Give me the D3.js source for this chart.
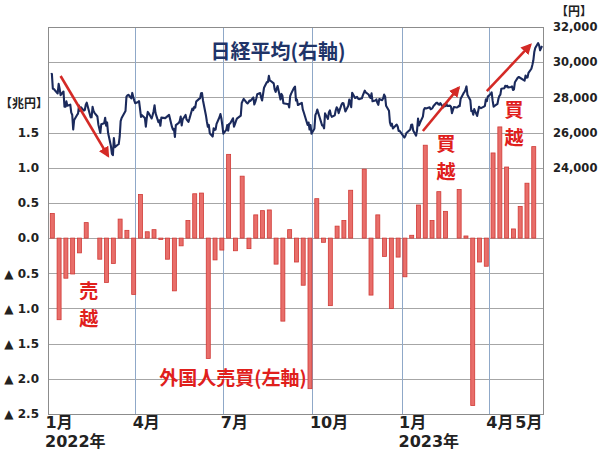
<!DOCTYPE html>
<html><head><meta charset="utf-8">
<script src="https://cdn.jsdelivr.net/npm/d3@7"></script>
<style>
html,body{margin:0;padding:0;background:#fff;}
svg{display:block;}
</style></head>
<body>
<svg id="chart" width="600" height="453"></svg>
<script>
// ---- DATA ----
// Weekly foreign investor net buying/selling (trillion yen), weeks ending on Fridays from 2022-01-07
const flowValues = [
  0.35,-1.16,-0.57,-0.51,-0.21,0.22,0.00,-0.30,-0.63,-0.36,0.27,0.11,-0.80,
  0.62,0.09,0.12,-0.02,-0.30,-0.75,-0.11,0.25,0.63,0.64,-1.71,-0.31,-0.17,
  1.19,-0.18,0.88,-0.15,0.33,0.39,0.40,-0.37,-1.18,0.12,-0.34,-0.67,-2.14,
  0.56,-0.06,-0.96,0.17,0.25,0.68,0.00,0.98,-0.81,0.33,-0.26,-1.00,-0.27,
  -0.55,0.04,0.47,1.32,0.25,0.66,0.38,0.00,0.69,0.03,-2.38,-0.34,-0.40,
  1.21,1.58,1.01,0.13,0.45,0.78,1.30
];
const firstWeek = "2022-01-07";

// Nikkei 225 closing prices (yen)
const nikkei = [
["2022-01-04",29301],["2022-01-05",29332],["2022-01-06",28487],["2022-01-07",28478],["2022-01-11",28222],["2022-01-12",28765],["2022-01-13",28489],["2022-01-14",28124],["2022-01-17",28333],["2022-01-18",27467],["2022-01-19",27467],["2022-01-20",27772],["2022-01-21",27522],["2022-01-24",27588],["2022-01-25",27131],["2022-01-26",27011],["2022-01-27",26170],["2022-01-28",26717],["2022-01-31",27002],
["2022-02-01",27078],["2022-02-02",27533],["2022-02-03",27241],["2022-02-04",27440],["2022-02-07",27249],["2022-02-08",27284],["2022-02-09",27580],["2022-02-10",27696],["2022-02-14",26865],["2022-02-15",26866],["2022-02-16",27460],["2022-02-17",27232],["2022-02-18",27122],["2022-02-21",26911],["2022-02-22",26450],["2022-02-24",25971],["2022-02-25",26476],["2022-02-28",26526],
["2022-03-01",26844],["2022-03-02",26393],["2022-03-03",26577],["2022-03-04",25985],["2022-03-07",25221],["2022-03-08",24791],["2022-03-09",24717],["2022-03-10",25690],["2022-03-11",25163],["2022-03-14",25307],["2022-03-15",25346],["2022-03-16",25762],["2022-03-17",26652],["2022-03-18",26827],["2022-03-22",27224],["2022-03-23",28040],["2022-03-24",28110],["2022-03-25",28149],["2022-03-28",27943],["2022-03-29",28252],["2022-03-30",28027],["2022-03-31",27821],
["2022-04-01",27665],["2022-04-04",27736],["2022-04-05",27787],["2022-04-06",27350],["2022-04-07",26888],["2022-04-08",26985],["2022-04-11",26821],["2022-04-12",26334],["2022-04-13",26843],["2022-04-14",27172],["2022-04-15",27093],["2022-04-18",26799],["2022-04-19",26985],["2022-04-20",27217],["2022-04-21",27553],["2022-04-22",27105],["2022-04-25",26590],["2022-04-26",26700],["2022-04-27",26386],["2022-04-28",26847],
["2022-05-02",26818],["2022-05-06",27003],["2022-05-09",26319],["2022-05-10",26167],["2022-05-11",26213],["2022-05-12",25748],["2022-05-13",26427],["2022-05-16",26547],["2022-05-17",26659],["2022-05-18",26911],["2022-05-19",26402],["2022-05-20",26739],["2022-05-23",27001],["2022-05-24",26748],["2022-05-25",26677],["2022-05-26",26604],["2022-05-27",26781],["2022-05-30",27369],["2022-05-31",27279],
["2022-06-01",27457],["2022-06-02",27413],["2022-06-03",27761],["2022-06-06",27915],["2022-06-07",27943],["2022-06-08",28234],["2022-06-09",28246],["2022-06-10",27824],["2022-06-13",26987],["2022-06-14",26629],["2022-06-15",26326],["2022-06-16",26431],["2022-06-17",25963],["2022-06-20",25771],["2022-06-21",26246],["2022-06-22",26149],["2022-06-23",26171],["2022-06-24",26491],["2022-06-27",26871],["2022-06-28",27049],["2022-06-29",26804],["2022-06-30",26393],
["2022-07-01",25935],["2022-07-04",26153],["2022-07-05",26423],["2022-07-06",26107],["2022-07-07",26490],["2022-07-08",26517],["2022-07-11",26812],["2022-07-12",26336],["2022-07-13",26478],["2022-07-14",26643],["2022-07-15",26788],["2022-07-19",26962],["2022-07-20",27680],["2022-07-21",27803],["2022-07-22",27914],["2022-07-25",27699],["2022-07-26",27655],["2022-07-27",27715],["2022-07-28",27815],["2022-07-29",27801],
["2022-08-01",27993],["2022-08-02",27594],["2022-08-03",27742],["2022-08-04",27932],["2022-08-05",28175],["2022-08-08",28249],["2022-08-09",27999],["2022-08-10",27819],["2022-08-12",28546],["2022-08-15",28871],["2022-08-16",28868],["2022-08-17",29222],["2022-08-18",28942],["2022-08-19",28930],["2022-08-22",28794],["2022-08-23",28452],["2022-08-24",28313],["2022-08-25",28479],["2022-08-26",28641],["2022-08-29",27878],["2022-08-30",28195],["2022-08-31",28091],
["2022-09-01",27661],["2022-09-02",27650],["2022-09-05",27619],["2022-09-06",27626],["2022-09-07",27430],["2022-09-08",28065],["2022-09-09",28214],["2022-09-12",28542],["2022-09-13",28614],["2022-09-14",27818],["2022-09-15",27875],["2022-09-16",27567],["2022-09-20",27688],["2022-09-21",27313],["2022-09-22",27153],["2022-09-26",26431],["2022-09-27",26571],["2022-09-28",26173],["2022-09-29",26422],["2022-09-30",25937],
["2022-10-03",26215],["2022-10-04",26992],["2022-10-05",27120],["2022-10-06",27311],["2022-10-07",27116],["2022-10-11",26401],["2022-10-12",26397],["2022-10-13",26237],["2022-10-14",27090],["2022-10-17",26775],["2022-10-18",27156],["2022-10-19",27257],["2022-10-20",27006],["2022-10-21",26890],["2022-10-24",26974],["2022-10-25",27250],["2022-10-26",27431],["2022-10-27",27345],["2022-10-28",27105],["2022-10-31",27587],
["2022-11-01",27678],["2022-11-02",27663],["2022-11-04",27199],["2022-11-07",27527],["2022-11-08",27872],["2022-11-09",27716],["2022-11-10",27446],["2022-11-11",28263],["2022-11-14",27963],["2022-11-15",27990],["2022-11-16",28028],["2022-11-17",27930],["2022-11-18",27899],["2022-11-21",27944],["2022-11-22",28115],["2022-11-24",28383],["2022-11-25",28283],["2022-11-28",28162],["2022-11-29",28027],["2022-11-30",27968],
["2022-12-01",28226],["2022-12-02",27777],["2022-12-05",27820],["2022-12-06",27885],["2022-12-07",27686],["2022-12-08",27574],["2022-12-09",27901],["2022-12-12",27842],["2022-12-13",27954],["2022-12-14",28156],["2022-12-15",28051],["2022-12-16",27527],["2022-12-19",27237],["2022-12-20",26568],["2022-12-21",26387],["2022-12-22",26507],["2022-12-23",26235],["2022-12-26",26405],["2022-12-27",26447],["2022-12-28",26340],["2022-12-29",26093],["2022-12-30",26095],
["2023-01-04",25717],["2023-01-05",25820],["2023-01-06",25974],["2023-01-10",26175],["2023-01-11",26446],["2023-01-12",26449],["2023-01-13",26120],["2023-01-16",25822],["2023-01-17",26138],["2023-01-18",26791],["2023-01-19",26405],["2023-01-20",26553],["2023-01-23",26907],["2023-01-24",27299],["2023-01-25",27395],["2023-01-26",27363],["2023-01-27",27382],["2023-01-30",27433],["2023-01-31",27327],
["2023-02-01",27346],["2023-02-02",27402],["2023-02-03",27509],["2023-02-06",27694],["2023-02-07",27685],["2023-02-08",27606],["2023-02-09",27584],["2023-02-10",27670],["2023-02-13",27427],["2023-02-14",27602],["2023-02-15",27501],["2023-02-16",27696],["2023-02-17",27513],["2023-02-20",27531],["2023-02-21",27473],["2023-02-22",27104],["2023-02-24",27453],["2023-02-27",27423],["2023-02-28",27445],
["2023-03-01",27516],["2023-03-02",27498],["2023-03-03",27927],["2023-03-06",28237],["2023-03-07",28309],["2023-03-08",28444],["2023-03-09",28623],["2023-03-10",28143],["2023-03-13",27832],["2023-03-14",27222],["2023-03-15",27229],["2023-03-16",27010],["2023-03-17",27334],["2023-03-20",26945],["2023-03-22",27466],["2023-03-23",27419],["2023-03-24",27385],["2023-03-27",27476],["2023-03-28",27518],["2023-03-29",27883],["2023-03-30",27782],["2023-03-31",28041],
["2023-04-03",28188],["2023-04-04",28287],["2023-04-05",27813],["2023-04-06",27472],["2023-04-07",27518],["2023-04-10",27633],["2023-04-11",27923],["2023-04-12",28082],["2023-04-13",28157],["2023-04-14",28493],["2023-04-17",28514],["2023-04-18",28658],["2023-04-19",28606],["2023-04-20",28657],["2023-04-21",28564],["2023-04-24",28593],["2023-04-25",28620],["2023-04-26",28416],["2023-04-27",28457],["2023-04-28",28856],
["2023-05-01",29123],["2023-05-02",29157],["2023-05-08",28949],["2023-05-09",29242],["2023-05-10",29122],["2023-05-11",29126],["2023-05-12",29388],["2023-05-15",29626],["2023-05-16",29842],["2023-05-17",30093],["2023-05-18",30573],["2023-05-19",30808],["2023-05-22",31086],["2023-05-23",30957],["2023-05-24",30682],["2023-05-25",30801],["2023-05-26",30916]
];

// Axis ticks / labels
const leftTicks = [1.5,1.0,0.5,0.0,-0.5,-1.0,-1.5,-2.0,-2.5];
const gridValues = [3.0,2.5,2.0,1.5,1.0,0.5,0.0,-0.5,-1.0,-1.5,-2.0,-2.5];
const rightTicks = [24000,26000,28000,30000,32000];
const monthTicks = ["2022-01-01","2022-04-01","2022-07-01","2022-10-01","2023-01-01","2023-04-01","2023-05-01"];
const monthLabels = ["1月","4月","7月","10月","1月","4月","5月"];
const quarterLines = ["2022-04-01","2022-07-01","2022-10-01","2023-01-01","2023-04-01"];
const yearLabels = [["2022-01-01","2022年"],["2023-01-01","2023年"]];

// Annotations (data coordinates)
const arrows = [
  {from:["2022-01-14",29216], to:["2022-03-04",24670]},
  {from:["2023-01-23",26090], to:["2023-03-01",28550]},
  {from:["2023-03-30",28360], to:["2023-05-14",30980]}
];
const vlabels = [
  {date:"2022-02-12", v:-0.85, chars:["売","越"]},
  {date:"2023-02-16", v:1.24, chars:["買","越"]},
  {date:"2023-04-27", v:1.72, chars:["買","越"]}
];

// ---- CHART ----
const parse = d3.timeParse("%Y-%m-%d");
const svg = d3.select("#chart");
const L = 48, R = 543, T = 27, B = 414;

const x = d3.scaleTime().domain([parse("2022-01-01"), parse("2023-05-27")]).range([L, R]);
const yL = d3.scaleLinear().domain([-2.5, 3.0]).range([B, T]);
const yR = d3.scaleLinear().domain([10000, 32000]).range([B, T]);

const fontNum = "'DejaVu Sans','Noto Sans CJK JP',sans-serif";
const fontJP = "'Noto Sans CJK JP','Noto Sans',sans-serif";

// horizontal grid
svg.append("g").selectAll("line").data(gridValues).join("line")
  .attr("x1", L).attr("x2", R)
  .attr("y1", d => Math.round(yL(d)) + 0.5).attr("y2", d => Math.round(yL(d)) + 0.5)
  .attr("stroke", "#a6a6a6").attr("stroke-width", 1);

// vertical quarter lines
svg.append("g").selectAll("line").data(quarterLines).join("line")
  .attr("x1", d => Math.round(x(parse(d))) + 0.5).attr("x2", d => Math.round(x(parse(d))) + 0.5)
  .attr("y1", T).attr("y2", B)
  .attr("stroke", "#8fa8c8").attr("stroke-width", 1);

// frame
svg.append("rect").attr("x", L + 0.5).attr("y", T + 0.5).attr("width", R - L).attr("height", B - T)
  .attr("fill", "none").attr("stroke", "#8c8c8c").attr("stroke-width", 1);

// bars
const weeks = flowValues.map((v, i) => ({date: d3.timeDay.offset(parse(firstWeek), 7 * i), v}));
const barW = 4;
svg.append("g").selectAll("rect").data(weeks).join("rect")
  .attr("x", d => x(d.date) - 3.5)
  .attr("width", barW)
  .attr("y", d => yL(Math.max(0, d.v)))
  .attr("height", d => Math.abs(yL(d.v) - yL(0)))
  .attr("fill", "#e86e6a")
  .attr("stroke", "#d03a36")
  .attr("stroke-width", 0.8);

// Nikkei line
const line = d3.line().x(d => x(parse(d[0]))).y(d => yR(d[1]));
svg.append("path").datum(nikkei).attr("d", line)
  .attr("fill", "none").attr("stroke", "#1b2a5c").attr("stroke-width", 2.1)
  .attr("stroke-linejoin", "round");

// arrows
const defs = svg.append("defs");
defs.append("marker").attr("id", "ah").attr("viewBox", "0 0 10 10")
  .attr("refX", 8).attr("refY", 5).attr("markerWidth", 4.2).attr("markerHeight", 4.2)
  .attr("orient", "auto")
  .append("path").attr("d", "M0,0 L10,5 L0,10 z").attr("fill", "#d42a26");
svg.append("g").selectAll("line").data(arrows).join("line")
  .attr("x1", d => x(parse(d.from[0]))).attr("y1", d => yR(d.from[1]))
  .attr("x2", d => x(parse(d.to[0]))).attr("y2", d => yR(d.to[1]))
  .attr("stroke", "#d42a26").attr("stroke-width", 2.6).attr("marker-end", "url(#ah)");

// left axis
const gl = svg.append("g").attr("transform", `translate(${L},0)`)
  .call(d3.axisLeft(yL).tickValues(leftTicks).tickSize(0).tickPadding(8)
    .tickFormat(d => d < 0 ? "▲ " + Math.abs(d).toFixed(1) : d.toFixed(1)));
gl.select(".domain").remove();
gl.selectAll("text").attr("font-family", fontNum).attr("font-size", 12).attr("font-weight", "bold")
  .attr("fill", "#222").attr("x", -9);

// right axis
const gr = svg.append("g").attr("transform", `translate(${R},0)`)
  .call(d3.axisRight(yR).tickValues(rightTicks).tickSize(0).tickPadding(10)
    .tickFormat(d3.format(",")));
gr.select(".domain").remove();
gr.selectAll("text").attr("font-family", fontNum).attr("font-size", 11.5).attr("font-weight", "bold")
  .attr("fill", "#222");

// bottom axis
const gb = svg.append("g").attr("transform", `translate(0,${B})`)
  .call(d3.axisBottom(x).tickValues(monthTicks.map(parse)).tickSize(0)
    .tickFormat((d, i) => monthLabels[i]));
gb.select(".domain").remove();
gb.selectAll("text").attr("font-family", fontNum).attr("font-size", 16).attr("font-weight", "bold")
  .attr("fill", "#222").attr("text-anchor", "start").attr("dx", -3).attr("y", 3).attr("dy", "0.71em");

svg.append("g").selectAll("text").data(yearLabels).join("text")
  .attr("x", d => x(parse(d[0])) - 3).attr("y", 447)
  .attr("font-family", fontNum).attr("font-size", 16).attr("font-weight", "bold").attr("fill", "#222")
  .text(d => d[1]);

// unit labels
svg.append("text").attr("x", 0).attr("y", 108).attr("font-family", fontJP).attr("font-size", 12)
  .attr("font-weight", "bold").attr("fill", "#222").text("【兆円】");
svg.append("text").attr("x", 556).attr("y", 16).attr("font-family", fontJP).attr("font-size", 12)
  .attr("font-weight", "bold").attr("fill", "#222").text("【円】");

// series labels
svg.append("text").attr("x", 278).attr("y", 59).attr("text-anchor", "middle")
  .attr("font-family", fontJP).attr("font-size", 20).attr("font-weight", "bold").attr("fill", "#1f3468")
  .text("日経平均(右軸)");
svg.append("text").attr("x", 233).attr("y", 385).attr("text-anchor", "middle")
  .attr("font-family", fontJP).attr("font-size", 19).attr("font-weight", "bold").attr("fill", "#e0201c")
  .text("外国人売買(左軸)");

// 売越 / 買越 vertical labels (one text per character)
const vchars = vlabels.flatMap(l => l.chars.map((c, i) => ({date: l.date, v: l.v, i, c})));
svg.append("g").selectAll("text").data(vchars).join("text")
  .attr("text-anchor", "middle")
  .attr("x", d => x(parse(d.date)))
  .attr("y", d => yL(d.v) + d.i * 28)
  .attr("font-family", fontJP).attr("font-size", 19).attr("font-weight", "bold").attr("fill", "#e0201c")
  .text(d => d.c);
</script>
</body></html>
